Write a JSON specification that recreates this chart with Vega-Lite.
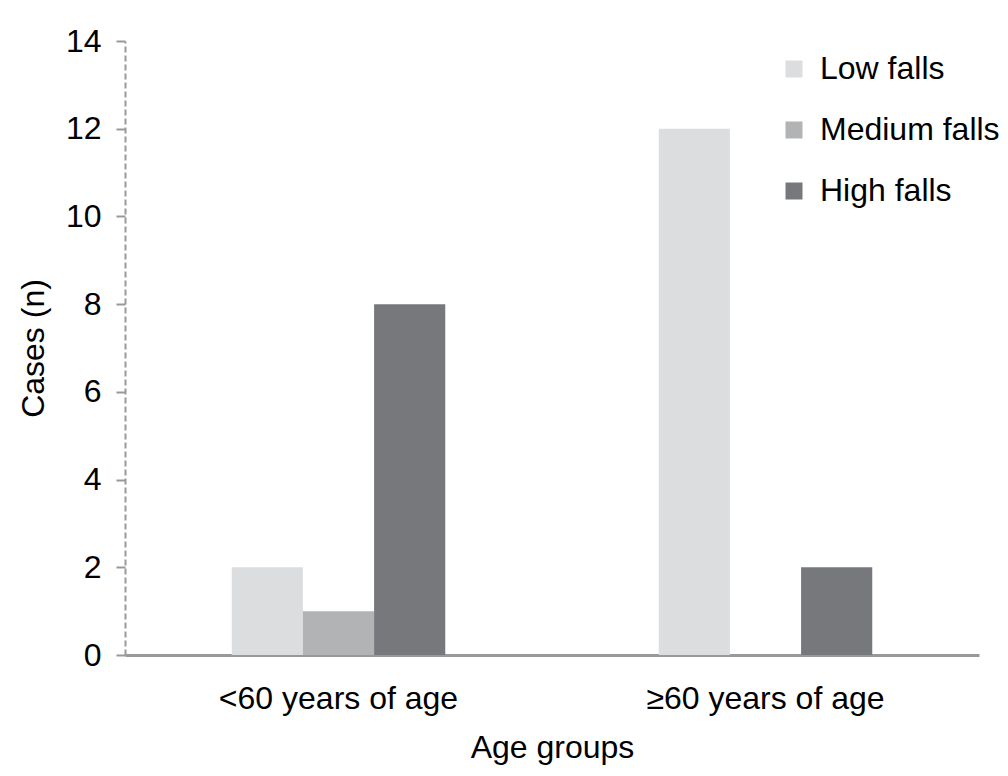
{
  "$schema": "https://vega.github.io/schema/vega-lite/v6.json",
  "autosize": {"type": "none"},
  "width": 854,
  "height": 614,
  "padding": {"left": 125, "top": 41, "right": 29, "bottom": 121},
  "background": "white",
  "config": {
    "font": "Liberation Sans",
    "view": {"stroke": null}
  },
  "data": {
    "values": [
      {"group": "<60 years of age", "type": "Low falls", "cases": 2},
      {"group": "<60 years of age", "type": "Medium falls", "cases": 1},
      {"group": "<60 years of age", "type": "High falls", "cases": 8},
      {"group": "≥60 years of age", "type": "Low falls", "cases": 12},
      {"group": "≥60 years of age", "type": "Medium falls", "cases": 0},
      {"group": "≥60 years of age", "type": "High falls", "cases": 2}
    ]
  },
  "mark": {"type": "bar"},
  "encoding": {
    "x": {
      "field": "group",
      "type": "nominal",
      "sort": ["<60 years of age", "≥60 years of age"],
      "scale": {"paddingInner": 0.5, "paddingOuter": 0.25},
      "axis": {
        "title": "Age groups",
        "titleFontSize": 32,
        "titleFontWeight": "normal",
        "titleColor": "#000000",
        "titlePadding": 18,
        "labelAngle": 0,
        "labelFontSize": 32,
        "labelColor": "#000000",
        "labelPadding": 28,
        "labelLimit": 400,
        "ticks": false,
        "domainColor": "#999999",
        "domainWidth": 3
      }
    },
    "xOffset": {
      "field": "type",
      "type": "nominal",
      "scale": {"domain": ["Low falls", "Medium falls", "High falls"], "paddingInner": 0, "paddingOuter": 0}
    },
    "y": {
      "field": "cases",
      "type": "quantitative",
      "scale": {"domain": [0, 14], "nice": false},
      "axis": {
        "title": "Cases (n)",
        "titleFontSize": 32,
        "titleFontWeight": "normal",
        "titleColor": "#000000",
        "titlePadding": 15,
        "values": [0, 2, 4, 6, 8, 10, 12, 14],
        "labelFontSize": 32,
        "labelColor": "#000000",
        "labelPadding": 15,
        "grid": false,
        "tickColor": "#999999",
        "tickSize": 9,
        "tickWidth": 2,
        "domainColor": "#999999",
        "domainWidth": 2,
        "domainDash": [6, 3]
      }
    },
    "color": {
      "field": "type",
      "type": "nominal",
      "scale": {
        "domain": ["Low falls", "Medium falls", "High falls"],
        "range": ["#dcdddf", "#b2b3b5", "#77787b"]
      },
      "legend": {
        "title": null,
        "orient": "none",
        "legendX": 653,
        "legendY": 12,
        "symbolType": "square",
        "symbolSize": 289,
        "symbolStrokeWidth": 0,
        "labelFontSize": 32,
        "labelColor": "#000000",
        "labelOffset": 10,
        "labelLimit": 300,
        "rowPadding": 29
      }
    }
  }
}
